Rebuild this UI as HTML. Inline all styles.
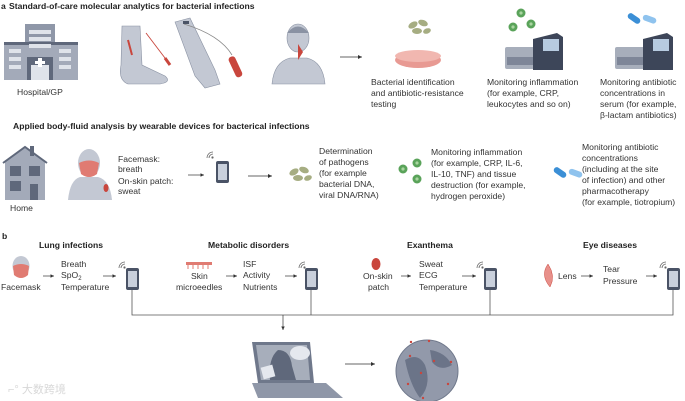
<!DOCTYPE html>
<html><head><meta charset="utf-8"><style>
html,body{margin:0;padding:0;background:#fff;width:685px;height:401px;overflow:hidden}
svg{display:block}
text{font-family:"Liberation Sans","Noto Sans CJK SC",sans-serif;font-size:8.6px;fill:#333}
.b{font-weight:bold;fill:#222}
</style></head><body>
<svg width="685" height="401" viewBox="0 0 685 401" xmlns="http://www.w3.org/2000/svg">
<defs>
<marker id="ah" markerWidth="6" markerHeight="6" refX="5" refY="3" orient="auto"><path d="M0,0.5 L5,3 L0,5.5z" fill="#333"/></marker>
<g id="phone"><rect x="0" y="0" width="13" height="22" rx="2" fill="#4a5366"/><rect x="2" y="3" width="9" height="16" fill="#c9d0dc"/></g>
<g id="wifi" fill="none" stroke="#666" stroke-width="0.8"><path d="M0,6 a6,6 0 0 1 6,-6"/><path d="M2,6 a4,4 0 0 1 4,-4"/><circle cx="5.5" cy="5.5" r="0.7" fill="#666"/></g>
<g id="virus" fill="#5aa35a"><circle cx="0" cy="0" r="4.5"/><circle cx="0" cy="0" r="1.6" fill="#a9d5a0"/></g>
<g id="machine"><rect x="0" y="14" width="40" height="22" rx="2" fill="#a7aebb"/><rect x="2" y="24" width="28" height="8" fill="#7e8698"/><path d="M28,6 L52,0 L58,4 L58,37 L28,37z" fill="#3d4659"/><rect x="38" y="6" width="16" height="12" fill="#b7cbe0"/></g>
<g id="bact" fill="#a6ad82"><ellipse cx="0" cy="0" rx="5" ry="3" transform="rotate(-30)"/><ellipse cx="10" cy="-2" rx="5" ry="3" transform="rotate(20 10 -2)"/><ellipse cx="4" cy="6" rx="5" ry="3"/><ellipse cx="14" cy="6" rx="4" ry="2.6" transform="rotate(-20 14 6)"/></g>
<g id="pill"><rect x="0" y="0" width="14" height="6" rx="3" fill="#3b8fd6" transform="rotate(35)"/><rect x="14" y="2" width="14" height="6" rx="3" fill="#8fc3ee" transform="rotate(20 14 2)"/></g>
</defs>

<text x="1" y="9" class="b">a</text>
<text x="9" y="9" class="b">Standard-of-care molecular analytics for bacterial infections</text>
<rect x="25" y="24" width="30" height="56" fill="#8f97a8"/>
<rect x="4" y="44" width="74" height="36" fill="#a3aab9"/>
<rect x="4" y="42" width="74" height="3" fill="#5f687b"/>
<g fill="#dfe3ea">
<rect x="9" y="49" width="12" height="4"/><rect x="9" y="57" width="12" height="4"/><rect x="9" y="65" width="12" height="4"/>
<rect x="59" y="49" width="12" height="4"/><rect x="59" y="57" width="12" height="4"/><rect x="59" y="65" width="12" height="4"/>
<rect x="29" y="30" width="22" height="4"/><rect x="29" y="37" width="22" height="4"/><rect x="29" y="44" width="22" height="4"/>
</g>
<rect x="27" y="57" width="26" height="23" fill="#5f687b"/><rect x="31" y="65" width="18" height="15" fill="#dfe3ea"/>
<path d="M38,58 h4 v3 h3 v3 h-3 v3 h-4 v-3 h-3 v-3 h3z" fill="#fff"/>
<text x="17" y="95">Hospital/GP</text>
<path d="M122,26 L140,26 L142,65 L165,76 Q172,82 160,84 L128,84 Q118,80 121,65z" fill="#c3c8d3" stroke="#8a92a3" stroke-width="0.6"/>
<path d="M128,40 L132,55" stroke="#c9463d" stroke-width="2"/>
<path d="M146,33 L168,62" stroke="#c9463d" stroke-width="0.9"/><path d="M165,58 L170,65" stroke="#c9463d" stroke-width="3"/>
<path d="M175,22 L190,18 L215,70 L220,84 L205,88 L195,76z" fill="#c3c8d3" stroke="#8a92a3" stroke-width="0.6"/>
<path d="M184,24 Q220,35 232,55" fill="none" stroke="#888" stroke-width="0.8"/>
<rect x="183" y="21" width="6" height="3" fill="#4a5366"/>
<rect x="232" y="56" width="7" height="22" rx="3" fill="#c9463d" transform="rotate(-25 235 67)"/>
<path d="M272,84 Q274,62 290,58 L307,58 Q323,62 325,84z" fill="#c3c8d3" stroke="#8a92a3" stroke-width="0.6"/>
<ellipse cx="298" cy="38" rx="11" ry="14" fill="#c3c8d3" stroke="#8a92a3" stroke-width="0.6"/>
<path d="M287,33 Q298,20 309,33" fill="#8a92a3"/>
<path d="M298,44 L303,52 L298,60z" fill="#c9463d"/>
<line x1="340" y1="57" x2="362" y2="57" stroke="#333" stroke-width="0.8" marker-end="url(#ah)"/>
<use href="#bact" x="413" y="25"/>
<ellipse cx="418" cy="60" rx="23" ry="8" fill="#e89a93"/><ellipse cx="418" cy="56" rx="23" ry="6" fill="#f1b7b0"/>
<text x="371" y="85">Bacterial identification</text><text x="371" y="96">and antibiotic-resistance</text><text x="371" y="107">testing</text>
<use href="#virus" x="521" y="13"/><use href="#virus" x="513" y="27"/><use href="#virus" x="531" y="24"/>
<use href="#machine" x="505" y="33"/>
<text x="487" y="85">Monitoring inflammation</text><text x="487" y="96">(for example, CRP,</text><text x="487" y="107">leukocytes and so on)</text>
<use href="#pill" x="630" y="12"/>
<use href="#machine" x="615" y="33"/>
<text x="600" y="85">Monitoring antibiotic</text><text x="600" y="96">concentrations in</text><text x="600" y="107">serum (for example,</text><text x="600" y="118">β-lactam antibiotics)</text>

<text x="13" y="129" class="b">Applied body-fluid analysis by wearable devices for bacterical infections</text>
<path d="M5,162 L25,148 L45,162 L45,200 L5,200z" fill="#a3aab9"/>
<rect x="30" y="146" width="4" height="10" fill="#5f687b"/>
<path d="M3,163 L25,147 L47,163" fill="none" stroke="#5f687b" stroke-width="2"/>
<g fill="#5f687b"><rect x="10" y="166" width="11" height="10"/><rect x="29" y="166" width="11" height="10"/><rect x="10" y="181" width="11" height="10"/><rect x="30" y="184" width="8" height="16"/></g>
<text x="10" y="211">Home</text>
<path d="M68,200 Q70,180 80,177 L98,177 Q110,180 112,200z" fill="#c3c8d3"/>
<ellipse cx="89" cy="163" rx="11" ry="14" fill="#c3c8d3"/>
<path d="M79,163 Q89,158 99,163 L97,174 Q89,180 81,174z" fill="#e07b72"/>
<ellipse cx="106" cy="188" rx="2.5" ry="4" fill="#c9463d"/>
<text x="118" y="162">Facemask:</text><text x="118" y="172">breath</text><text x="118" y="184">On-skin patch:</text><text x="118" y="194">sweat</text>
<line x1="188" y1="175" x2="204" y2="175" stroke="#333" stroke-width="0.7" marker-end="url(#ah)"/>
<use href="#wifi" x="207" y="152"/><use href="#phone" x="216" y="161"/>
<line x1="248" y1="176" x2="272" y2="176" stroke="#333" stroke-width="0.8" marker-end="url(#ah)"/>
<use href="#bact" x="294" y="172"/>
<text x="319" y="154">Determination</text><text x="319" y="165">of pathogens</text><text x="319" y="176">(for example</text><text x="319" y="187">bacterial DNA,</text><text x="319" y="198">viral DNA/RNA)</text>
<use href="#virus" x="403" y="169"/><use href="#virus" x="417" y="163"/><use href="#virus" x="417" y="179"/>
<text x="431" y="155">Monitoring inflammation</text><text x="431" y="166">(for example, CRP, IL-6,</text><text x="431" y="177">IL-10, TNF) and tissue</text><text x="431" y="188">destruction (for example,</text><text x="431" y="199">hydrogen peroxide)</text>
<use href="#pill" x="556" y="166"/>
<text x="582" y="150">Monitoring antibiotic</text><text x="582" y="161">concentrations</text><text x="582" y="172">(including at the site</text><text x="582" y="183">of infection) and other</text><text x="582" y="194">pharmacotherapy</text><text x="582" y="205">(for example, tiotropium)</text>

<text x="2" y="239" class="b">b</text>
<text x="39" y="248" class="b">Lung infections</text>
<text x="208" y="248" class="b">Metabolic disorders</text>
<text x="407" y="248" class="b">Exanthema</text>
<text x="583" y="248" class="b">Eye diseases</text>
<g stroke="#333" stroke-width="0.7">
<line x1="43" y1="276" x2="54" y2="276" marker-end="url(#ah)"/>
<line x1="103" y1="276" x2="116" y2="276" marker-end="url(#ah)"/>
<line x1="226" y1="276" x2="237" y2="276" marker-end="url(#ah)"/>
<line x1="285" y1="276" x2="297" y2="276" marker-end="url(#ah)"/>
<line x1="401" y1="276" x2="411" y2="276" marker-end="url(#ah)"/>
<line x1="462" y1="276" x2="476" y2="276" marker-end="url(#ah)"/>
<line x1="581" y1="276" x2="593" y2="276" marker-end="url(#ah)"/>
<line x1="646" y1="276" x2="657" y2="276" marker-end="url(#ah)"/>
</g>
<ellipse cx="21" cy="266" rx="8.5" ry="10" fill="#c3c8d3"/><path d="M13,266 Q21,262 29,266 L28,275 Q21,281 14,275z" fill="#e07b72"/>
<text x="1" y="290">Facemask</text>
<text x="61" y="267">Breath</text><text x="61" y="278">SpO<tspan font-size="6" dy="2">2</tspan></text><text x="61" y="290">Temperature</text>
<use href="#wifi" x="119" y="262"/><use href="#phone" x="126" y="268"/>
<rect x="186" y="262" width="26" height="3" fill="#e07b72"/>
<g stroke="#e07b72" stroke-width="1"><line x1="188" y1="265" x2="188" y2="269"/><line x1="193" y1="265" x2="193" y2="269"/><line x1="198" y1="265" x2="198" y2="269"/><line x1="203" y1="265" x2="203" y2="269"/><line x1="208" y1="265" x2="208" y2="269"/></g>
<text x="191" y="279">Skin</text><text x="176" y="290">microeedles</text>
<text x="243" y="267">ISF</text><text x="243" y="278">Activity</text><text x="243" y="290">Nutrients</text>
<use href="#wifi" x="299" y="262"/><use href="#phone" x="305" y="268"/>
<ellipse cx="376" cy="264" rx="4.5" ry="6" fill="#c9463d"/>
<text x="363" y="279">On-skin</text><text x="368" y="290">patch</text>
<text x="419" y="267">Sweat</text><text x="419" y="278">ECG</text><text x="419" y="290">Temperature</text>
<use href="#wifi" x="477" y="262"/><use href="#phone" x="484" y="268"/>
<path d="M548,264 Q540,275 550,287 Q556,276 548,264z" fill="#e8908a" stroke="#c9463d" stroke-width="0.5"/>
<text x="558" y="279">Lens</text>
<text x="603" y="272">Tear</text><text x="603" y="284">Pressure</text>
<use href="#wifi" x="660" y="262"/><use href="#phone" x="667" y="268"/>
<g stroke="#555" stroke-width="0.8" fill="none">
<path d="M132,290 V315 H673 V290"/><line x1="311" y1="290" x2="311" y2="315"/><line x1="490" y1="290" x2="490" y2="315"/>
</g>
<line x1="283" y1="315" x2="283" y2="330" stroke="#333" stroke-width="0.7" marker-end="url(#ah)"/>
<path d="M252,342 L310,342 L314,383 L258,383z" fill="#6f788b"/>
<path d="M256,345 L307,345 L310,380 L261,380z" fill="#a7aebb"/>
<path d="M252,383 L326,383 L343,398 L258,398z" fill="#8f97a8"/>
<path d="M270,380 Q268,358 278,350 Q290,350 292,366 L296,380z" fill="#5f687b"/>
<ellipse cx="300" cy="353" rx="10" ry="7" fill="#e5e8ee"/>
<rect x="262" y="366" width="12" height="12" fill="#e5e8ee" transform="rotate(-15 268 372)"/>
<line x1="345" y1="364" x2="375" y2="364" stroke="#333" stroke-width="0.8" marker-end="url(#ah)"/>
<circle cx="427" cy="371" r="31" fill="#9299aa" stroke="#6f788b" stroke-width="1"/>
<path d="M405,360 Q418,352 425,365 Q432,385 420,398 Q410,385 405,360z M430,350 Q445,352 452,365 Q440,372 432,362z" fill="#6b7488"/>
<g fill="#c9463d"><circle cx="410" cy="356" r="1.2"/><circle cx="434" cy="361" r="1.2"/><circle cx="451" cy="362" r="1.2"/><circle cx="421" cy="373" r="1.2"/><circle cx="408" cy="384" r="1.2"/><circle cx="448" cy="384" r="1.2"/><circle cx="423" cy="398" r="1.2"/><circle cx="411" cy="342" r="1.2"/><circle cx="429" cy="341" r="1.2"/></g>
<text x="8" y="393" style="font-size:11px;fill:#d8d8d8">⌐° 大数跨境</text>
</svg>
</body></html>
